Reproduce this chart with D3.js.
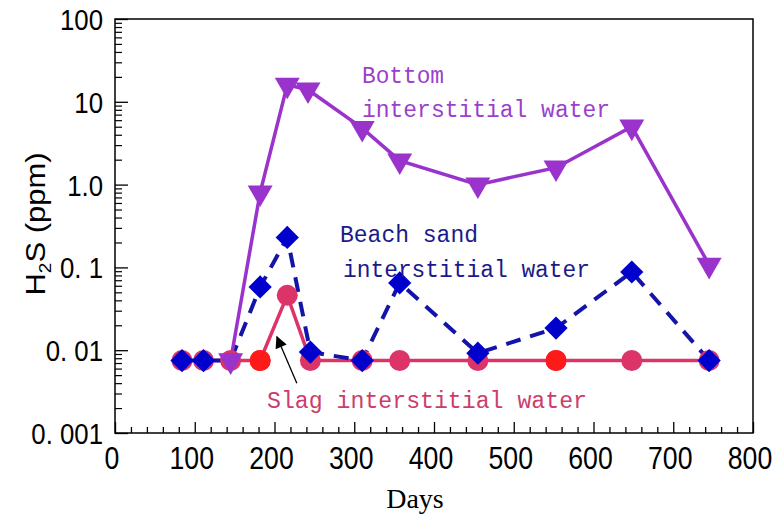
<!DOCTYPE html>
<html>
<head>
<meta charset="utf-8">
<script src="https://cdn.jsdelivr.net/npm/d3@7"></script>
<style>
  html, body { margin: 0; padding: 0; background: #fff; }
  svg { display: block; }
</style>
</head>
<body>
<svg id="chart" width="776" height="518"></svg>
<script>
// ---- data ----
const slagDays    = [84, 111, 145, 182, 216, 245, 310, 357, 455, 553, 648, 745];
const slagValues  = [0.0075, 0.0075, 0.0075, 0.0075, 0.046, 0.0075, 0.0075, 0.0075, 0.0075, 0.0075, 0.0075, 0.0075];
const slagRedDays   = [182, 553];
const slagRedValues = [0.0075, 0.0075];
const beachDays   = [84, 111, 145, 182, 216, 245, 310, 357, 455, 553, 648, 745];
const beachValues = [0.0075, 0.0075, 0.0075, 0.058, 0.23, 0.0095, 0.0075, 0.065, 0.0092, 0.0185, 0.088, 0.0075];
const bottomDays   = [145, 182, 216, 242, 310, 357, 455, 553, 648, 745];
const bottomValues = [0.0075, 0.8, 16, 14, 4.8, 1.95, 1.0, 1.6, 5.0, 0.107];
const xTickValues = [0, 100, 200, 300, 400, 500, 600, 700, 800];
const xTickLabels = ["0", "100", "200", "300", "400", "500", "600", "700", "800"];
const yTickValues = [0.001, 0.01, 0.1, 1, 10, 100];
const yTickLabels = ["0. 001", "0. 01", "0. 1", "1.0", "10", "100"];

// ---- layout ----
const svg = d3.select("#chart");
const L = 115, R = 753, T = 19, B = 433;
const x = d3.scaleLinear().domain([0, 800]).range([L, R]);
const y = d3.scaleLog().domain([0.001, 100]).range([B, T]);

const PURPLE = "#9933cc", BLUE = "#0a0ac0", PINK = "#dc3468", RED = "#ff1a1a";

// frame
svg.append("rect").attr("x", L).attr("y", T).attr("width", R - L).attr("height", B - T)
  .attr("fill", "none").attr("stroke", "#000").attr("stroke-width", 1.5);

// x axis ticks (inside)
const xMinor = d3.range(0, 801, 20);
svg.append("g").attr("transform", `translate(0,${B})`)
  .call(d3.axisBottom(x).tickValues(xMinor.filter(v => v % 100 !== 0)).tickSize(-6).tickFormat(""))
  .call(g => g.select(".domain").remove())
  .call(g => g.selectAll("line").attr("stroke", "#000").attr("stroke-width", 1.3));
svg.append("g").attr("transform", `translate(0,${B})`)
  .call(d3.axisBottom(x).tickValues(xTickValues).tickSize(-11).tickFormat(""))
  .call(g => g.select(".domain").remove())
  .call(g => g.selectAll("line").attr("stroke", "#000").attr("stroke-width", 1.3));

// y axis ticks (inside)
const yMinor = [];
for (let e = -3; e < 2; e++) for (let m = 2; m <= 9; m++) yMinor.push(m * Math.pow(10, e));
svg.append("g").attr("transform", `translate(${L},0)`)
  .call(d3.axisLeft(y).tickValues(yMinor).tickSize(-7).tickFormat(""))
  .call(g => g.select(".domain").remove())
  .call(g => g.selectAll("line").attr("stroke", "#000").attr("stroke-width", 1.2));
svg.append("g").attr("transform", `translate(${L},0)`)
  .call(d3.axisLeft(y).tickValues(yTickValues).tickSize(-13).tickFormat(""))
  .call(g => g.select(".domain").remove())
  .call(g => g.selectAll("line").attr("stroke", "#000").attr("stroke-width", 1.3));

// tick labels (condensed sans)
const tickFont = "'Liberation Sans', Arial, sans-serif";
svg.append("g").selectAll("text").data(yTickValues).join("text")
  .attr("transform", (d) => `translate(${L - 12},${y(d) + 11}) scale(0.86,1)`)
  .attr("text-anchor", "end")
  .attr("font-family", tickFont).attr("font-size", 30).attr("fill", "#000")
  .text((d, i) => yTickLabels[i]);
svg.append("g").selectAll("text").data(xTickValues).join("text")
  .attr("transform", (d) => `translate(${x(d) - 3},${B + 36}) scale(0.86,1)`)
  .attr("text-anchor", "middle")
  .attr("font-family", tickFont).attr("font-size", 31).attr("fill", "#000")
  .text((d, i) => xTickLabels[i]);

// axis titles
svg.append("text")
  .attr("x", 415).attr("y", 508).attr("text-anchor", "middle")
  .attr("font-family", "'Liberation Serif', 'Times New Roman', serif")
  .attr("font-size", 28).attr("fill", "#000").text("Days");
const yt = svg.append("text")
  .attr("transform", "translate(45,224) rotate(-90) scale(1,0.88)")
  .attr("text-anchor", "middle")
  .attr("font-family", tickFont).attr("font-size", 31).attr("fill", "#000");
yt.append("tspan").text("H");
yt.append("tspan").attr("font-size", 19).attr("dy", 7).text("2");
yt.append("tspan").attr("dy", -7).text("S (ppm)");

// ---- lines ----
const line = d3.line().x(d => x(d[0])).y(d => y(d[1]));
const slagPts = slagDays.map((d, i) => [d, slagValues[i]]);
const beachPts = beachDays.map((d, i) => [d, beachValues[i]]);
const bottomPts = bottomDays.map((d, i) => [d, bottomValues[i]]);

svg.append("path").datum(slagPts).attr("d", line)
  .attr("fill", "none").attr("stroke", PINK).attr("stroke-width", 3.5);
svg.append("path").datum(beachPts).attr("d", line)
  .attr("fill", "none").attr("stroke", "#1414a8").attr("stroke-width", 4)
  .attr("stroke-dasharray", "15,10");
svg.append("path").datum(bottomPts).attr("d", line)
  .attr("fill", "none").attr("stroke", PURPLE).attr("stroke-width", 3.5);

// ---- markers ----
svg.append("g").selectAll("circle").data(slagPts).join("circle")
  .attr("cx", d => x(d[0])).attr("cy", d => y(d[1])).attr("r", 10.5)
  .attr("fill", PINK);
svg.append("g").selectAll("circle").data(slagRedDays.map((d, i) => [d, slagRedValues[i]])).join("circle")
  .attr("cx", d => x(d[0])).attr("cy", d => y(d[1])).attr("r", 10.5)
  .attr("fill", RED);

const diamond = d3.symbol().type(d3.symbolSquare).size(270);
svg.append("g").selectAll("path").data(beachPts.filter(d => d[0] !== 145)).join("path")
  .attr("d", diamond)
  .attr("transform", d => `translate(${x(d[0])},${y(d[1])}) rotate(45)`)
  .attr("fill", "#0000cc");

const tri = d3.symbol().type(d3.symbolTriangle).size(270);
svg.append("g").selectAll("path").data(bottomPts).join("path")
  .attr("d", tri)
  .attr("transform", d => `translate(${x(d[0])},${y(d[1])}) rotate(180)`)
  .attr("fill", PURPLE);

// ---- annotations ----
const labFont = "'Liberation Mono', 'DejaVu Sans Mono', monospace";
function label(txt, px, py, color, len) {
  svg.append("text").attr("x", px).attr("y", py)
    .attr("font-family", labFont).attr("font-size", 23).attr("fill", color)
    .attr("textLength", len).attr("lengthAdjust", "spacingAndGlyphs")
    .text(txt);
}
label("Bottom", 362, 83, "#9b3fcc", 82);
label("interstitial water", 362, 117, "#9b3fcc", 248);
label("Beach sand", 340, 242, "#1a1a8c", 138);
label("interstitial water", 343, 277, "#1a1a8c", 247);
label("Slag interstitial water", 267, 408, "#cc3d6c", 320);

// arrow
svg.append("defs").append("marker")
  .attr("id", "ah").attr("viewBox", "0 0 10 10").attr("refX", 9).attr("refY", 5)
  .attr("markerWidth", 14).attr("markerHeight", 12).attr("markerUnits", "userSpaceOnUse")
  .attr("orient", "auto")
  .append("path").attr("d", "M0,0 L10,5 L0,10 Z").attr("fill", "#000");
svg.append("line")
  .attr("x1", x(228)).attr("y1", y(0.0040))
  .attr("x2", x(203)).attr("y2", y(0.0145))
  .attr("stroke", "#000").attr("stroke-width", 1.3)
  .attr("marker-end", "url(#ah)");
</script>
</body>
</html>
